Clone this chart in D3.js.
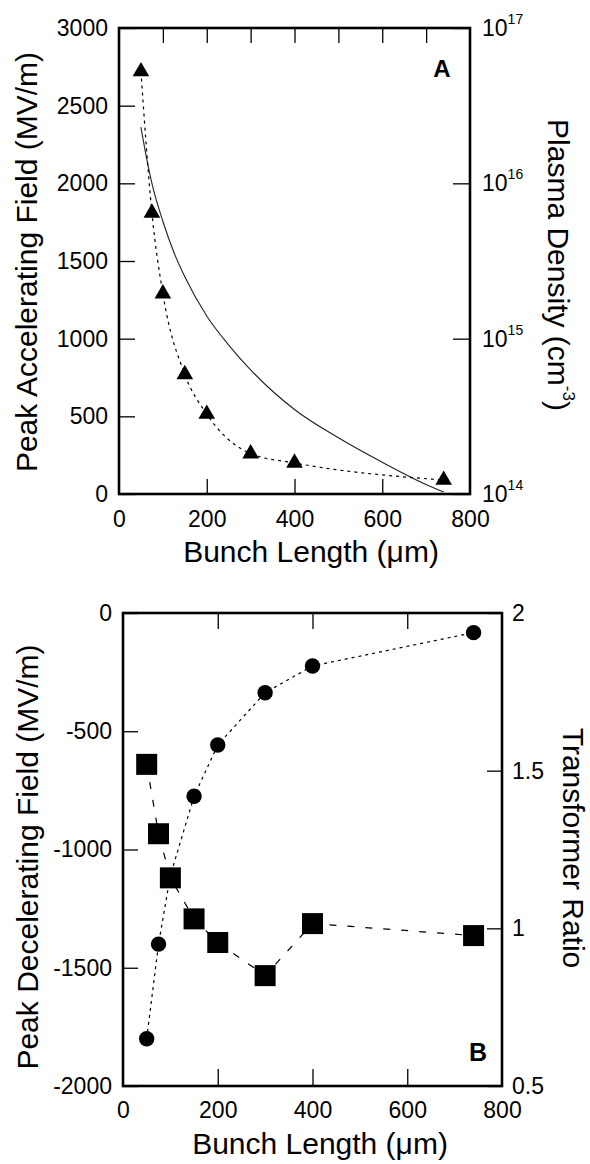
<!DOCTYPE html>
<html><head><meta charset="utf-8">
<script src="https://cdn.jsdelivr.net/npm/d3@7"></script>
<style>
html,body{margin:0;padding:0;background:#fff;}
text{font-family:"Liberation Sans",Arial,Helvetica,sans-serif;fill:#000;}
</style></head>
<body>
<svg id="c" width="590" height="1164"></svg>
<script>
// ---- data ----
const bunchLength = [50, 75, 100, 150, 200, 300, 400, 740];
const peakAccelField = [2720, 1810, 1290, 770, 515, 260, 200, 90];
const densityBunchLength = [50, 60, 75, 100, 125, 150, 200, 250, 300, 400, 500, 600, 700, 740];
const plasmaDensity = [2.3e16, 1.6e16, 1.0e16, 5.7e15, 3.6e15, 2.5e15, 1.4e15, 9.1e14, 6.3e14, 3.5e14, 2.3e14, 1.6e14, 1.15e14, 1.03e14];
const peakDecelField = [-1800, -1400, -1110, -775, -558, -337, -224, -83];
const transformerRatio = [1.52, 1.30, 1.16, 1.03, 0.955, 0.85, 1.015, 0.977];

const xTickLabels = [0, 200, 400, 600, 800];
const xTopTicksA = [100, 200, 300, 400, 500, 600, 700];
const xInnerTicks = [200, 400, 600];
const accelTicks = [0, 500, 1000, 1500, 2000, 2500, 3000];
const densityTicks = [1e14, 1e15, 1e16, 1e17];
const densityExp = ["14", "15", "16", "17"];
const decelTicks = [-2000, -1500, -1000, -500, 0];
const ratioTicks = [0.5, 1, 1.5, 2];

const svg = d3.select("#c");
svg.append("rect").attr("width",590).attr("height",1164).attr("fill","#fff");

const TICK_FS = 23, TITLE_FS = 30;
const plain = d => String(d);

function styleAxis(g){
  g.select(".domain").remove();
  g.selectAll(".tick line").attr("stroke","#000").attr("stroke-width",1.3);
  g.selectAll(".tick text").attr("font-size",TICK_FS).attr("fill","#000")
   .attr("font-family","Liberation Sans, Arial, sans-serif");
}

// ================= Panel A =================
const A = {l:119, r:470, t:28, b:494};
const xA = d3.scaleLinear().domain([0,800]).range([A.l, A.r]);
const yA = d3.scaleLinear().domain([0,3000]).range([A.b, A.t]);
const yAr = d3.scaleLog().domain([1e14,1e17]).range([A.b, A.t]);

svg.append("g").attr("transform",`translate(0,${A.b})`)
  .call(d3.axisBottom(xA).tickValues(xTickLabels).tickSize(0).tickPadding(17).tickFormat(plain)).call(styleAxis);
svg.append("g").attr("transform",`translate(0,${A.b})`)
  .call(d3.axisBottom(xA).tickValues(xInnerTicks).tickSize(-15).tickFormat("")).call(styleAxis);
svg.append("g").attr("transform",`translate(0,${A.t})`)
  .call(d3.axisTop(xA).tickValues(xTopTicksA).tickSize(-15).tickFormat("")).call(styleAxis);
svg.append("g").attr("transform",`translate(${A.l},0)`)
  .call(d3.axisLeft(yA).tickValues(accelTicks).tickSize(-16).tickPadding(11).tickFormat(plain)).call(styleAxis);
const rA = svg.append("g").attr("transform",`translate(${A.r},0)`)
  .call(d3.axisRight(yAr).tickValues(densityTicks).tickSize(-17).tickPadding(12).tickFormat(()=>"")).call(styleAxis);
rA.selectAll(".tick text").each(function(d,i){
  const t = d3.select(this);
  t.append("tspan").text("10");
  t.append("tspan").attr("font-size",14).attr("dy","-0.85em").text(densityExp[i]);
});

// solid density curve
svg.append("path")
  .attr("d", d3.line().curve(d3.curveMonotoneX)
     .x((d,i)=>xA(densityBunchLength[i])).y(d=>yAr(d))(plasmaDensity))
  .attr("fill","none").attr("stroke","#222").attr("stroke-width",1.1);

// dashed accel curve
svg.append("path")
  .attr("d", d3.line().curve(d3.curveMonotoneX)
     .x((d,i)=>xA(bunchLength[i])).y(d=>yA(d))(peakAccelField))
  .attr("fill","none").attr("stroke","#000").attr("stroke-width",1.2).attr("stroke-dasharray","3,4");

svg.append("g").selectAll("path").data(peakAccelField).join("path")
  .attr("transform",(d,i)=>`translate(${xA(bunchLength[i])},${yA(d)})`)
  .attr("d", d3.symbol(d3.symbolTriangle, 120)()).attr("fill","#000");

svg.append("rect").attr("x",A.l).attr("y",A.t).attr("width",A.r-A.l).attr("height",A.b-A.t)
  .attr("fill","none").attr("stroke","#000").attr("stroke-width",2.6);

svg.append("text").attr("x",442).attr("y",77).attr("text-anchor","middle")
  .attr("font-size",24).attr("font-weight","bold").text("A");

svg.append("text").attr("x",311).attr("y",562).attr("text-anchor","middle")
  .attr("font-size",TITLE_FS).text("Bunch Length (μm)");
svg.append("text").attr("transform","translate(37,262) rotate(-90)").attr("text-anchor","middle")
  .attr("font-size",TITLE_FS).text("Peak Accelerating Field (MV/m)");
const tA = svg.append("text").attr("transform","translate(548,265) rotate(90)").attr("text-anchor","middle")
  .attr("font-size",TITLE_FS);
tA.append("tspan").text("Plasma Density (cm");
tA.append("tspan").attr("font-size",17).attr("dy","-0.9em").text("-3");
tA.append("tspan").attr("dy","0.5em").text(")");

// ================= Panel B =================
const B = {l:123, r:502, t:613, b:1086};
const xB = d3.scaleLinear().domain([0,800]).range([B.l, B.r]);
const yB = d3.scaleLinear().domain([-2000,0]).range([B.b, B.t]);
const yBr = d3.scaleLinear().domain([0.5,2]).range([B.b, B.t]);

svg.append("g").attr("transform",`translate(0,${B.b})`)
  .call(d3.axisBottom(xB).tickValues(xTickLabels).tickSize(0).tickPadding(16).tickFormat(plain)).call(styleAxis);
svg.append("g").attr("transform",`translate(0,${B.b})`)
  .call(d3.axisBottom(xB).tickValues(xInnerTicks).tickSize(-17).tickFormat("")).call(styleAxis);
svg.append("g").attr("transform",`translate(0,${B.t})`)
  .call(d3.axisTop(xB).tickValues(xInnerTicks).tickSize(-16).tickFormat("")).call(styleAxis);
svg.append("g").attr("transform",`translate(${B.l},0)`)
  .call(d3.axisLeft(yB).tickValues(decelTicks).tickSize(-15).tickPadding(11).tickFormat(plain)).call(styleAxis);
svg.append("g").attr("transform",`translate(${B.r},0)`)
  .call(d3.axisRight(yBr).tickValues(ratioTicks).tickSize(-15).tickPadding(10).tickFormat(plain)).call(styleAxis);

// circles line
svg.append("path")
  .attr("d", d3.line().x((d,i)=>xB(bunchLength[i])).y(d=>yB(d))(peakDecelField))
  .attr("fill","none").attr("stroke","#000").attr("stroke-width",1.2).attr("stroke-dasharray","3,4");
// squares line
svg.append("path")
  .attr("d", d3.line().x((d,i)=>xB(bunchLength[i])).y(d=>yBr(d))(transformerRatio))
  .attr("fill","none").attr("stroke","#000").attr("stroke-width",1.2).attr("stroke-dasharray","7,11");

svg.append("g").selectAll("circle").data(peakDecelField).join("circle")
  .attr("cx",(d,i)=>xB(bunchLength[i])).attr("cy",d=>yB(d)).attr("r",7.7).attr("fill","#000");
svg.append("g").selectAll("path").data(transformerRatio).join("path")
  .attr("transform",(d,i)=>`translate(${xB(bunchLength[i])},${yBr(d)})`)
  .attr("d", d3.symbol(d3.symbolSquare, 441)()).attr("fill","#000");

svg.append("rect").attr("x",B.l).attr("y",B.t).attr("width",B.r-B.l).attr("height",B.b-B.t)
  .attr("fill","none").attr("stroke","#000").attr("stroke-width",2.6);

svg.append("text").attr("x",478).attr("y",1061).attr("text-anchor","middle")
  .attr("font-size",25).attr("font-weight","bold").text("B");

svg.append("text").attr("x",320).attr("y",1154).attr("text-anchor","middle")
  .attr("font-size",TITLE_FS).text("Bunch Length (μm)");
svg.append("text").attr("transform","translate(38,857) rotate(-90)").attr("text-anchor","middle")
  .attr("font-size",TITLE_FS).text("Peak Decelerating Field (MV/m)");
svg.append("text").attr("transform","translate(563,848) rotate(90)").attr("text-anchor","middle")
  .attr("font-size",TITLE_FS).text("Transformer Ratio");
</script>
</body></html>
